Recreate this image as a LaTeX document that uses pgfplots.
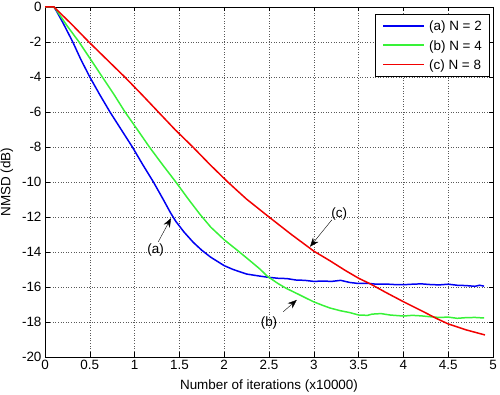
\documentclass[border=0pt]{standalone}
\usepackage{fontspec}
\setmainfont{Liberation Sans}
\usepackage{pgfplots}
\pgfplotsset{compat=1.18}
\usetikzlibrary{arrows.meta}
\definecolor{mblue}{rgb}{0,0,0.95}
\definecolor{mgreen}{rgb}{0.22,0.95,0.22}
\definecolor{mred}{rgb}{0.95,0,0}
\newcommand{\cf}{\fontsize{13.5}{16}\selectfont}
\begin{document}
\begin{tikzpicture}
\useasboundingbox (-45bp,-38bp) rectangle (455bp,357bp);
\begin{axis}[
  at={(0,0)}, anchor=south west,
  scale only axis, width=448bp, height=350bp,
  xmin=0, xmax=5, ymin=-20, ymax=0,
  xtick={0,0.5,...,5}, ytick={-20,-18,...,0},
  grid=major,
  major grid style={black!65, line width=0.4pt, dash pattern=on 1bp off 1.6bp},
  tick align=inside, major tick length=4.5bp,
  tick style={black, line width=0.5pt},
  axis line style={black, line width=0.7pt},
  clip=false,
  font=\cf,
  ticklabel style={font=\cf},
  /pgf/number format/assume math mode=true,
  xlabel={Number of iterations (x10000)},
  ylabel={NMSD (dB)},
  xlabel style={at={(axis description cs:0.5,0)}, anchor=base, yshift=-32bp, font=\cf},
  ylabel style={at={(axis description cs:-0.0848,0.5)}, anchor=center, font=\cf},
  legend style={at={(rel axis cs:1,1)}, anchor=north east, xshift=-3.7bp, yshift=-7bp,
    draw=black, fill=white, inner xsep=7.3bp, inner ysep=5.1bp,
    row sep=6.3bp, column sep=4bp,
    nodes={inner sep=0pt, text height=11.5bp, text depth=1.5bp, font=\cf},
    cells={anchor=west}},
  legend image code/.code={\draw[#1, line width=1.5pt] (0bp,0bp) -- (41bp,0bp);},
]
\addplot[mblue, line width=1.5pt] coordinates {
(0,0) (0.1,0) (0.13,-0.25) (0.2,-0.9) (0.31,-2) (0.4,-3.0) (0.5,-4) (0.61,-5) (0.725,-6) (0.85,-7)
(0.975,-8) (1.09,-9) (1.21,-10) (1.32,-11) (1.4,-11.75) (1.46,-12.25) (1.55,-12.85) (1.655,-13.45)
(1.75,-13.9) (1.85,-14.3) (2.0,-14.78) (2.1,-15.0) (2.25,-15.26) (2.4,-15.38) (2.5,-15.45)
(2.6,-15.5) (2.7,-15.52) (2.8,-15.6) (2.9,-15.62) (3.0,-15.68) (3.1,-15.66) (3.2,-15.68)
(3.3,-15.62) (3.4,-15.74) (3.5,-15.8) (3.6,-15.79) (3.7,-15.84) (3.8,-15.83) (3.9,-15.86)
(4.0,-15.87) (4.1,-15.84) (4.2,-15.82) (4.3,-15.86) (4.4,-15.88) (4.5,-15.84) (4.6,-15.9)
(4.7,-15.92) (4.8,-15.96) (4.85,-15.9) (4.9,-15.95)
};
\addlegendentry{(a) N = 2}
\addplot[mgreen, line width=1.5pt] coordinates {
(0,0) (0.1,0) (0.13,-0.2) (0.25,-1.1) (0.38,-2) (0.51,-3) (0.64,-4) (0.77,-5) (0.893,-6)
(1.03,-7) (1.165,-8) (1.31,-9) (1.46,-10) (1.6,-10.98) (1.73,-11.85) (1.85,-12.58) (2.0,-13.3)
(2.17,-14.0) (2.3,-14.55) (2.4,-14.98) (2.48,-15.38) (2.6,-15.8) (2.7,-16.1) (2.75,-16.22)
(2.846,-16.46) (2.92,-16.65) (3.0,-16.85) (3.1,-17.05) (3.18,-17.2) (3.3,-17.36)
(3.4,-17.46) (3.5,-17.6) (3.6,-17.62) (3.65,-17.55) (3.75,-17.52) (3.85,-17.6) (4.0,-17.66)
(4.1,-17.62) (4.2,-17.65) (4.3,-17.7) (4.4,-17.74) (4.5,-17.72) (4.6,-17.79) (4.7,-17.75)
(4.8,-17.74) (4.9,-17.77)
};
\addlegendentry{(b) N = 4}
\addplot[mred, line width=1.5pt] coordinates {
(0,0) (0.1,0) (0.13,-0.15) (0.3,-1.0) (0.49,-2) (0.69,-3) (0.89,-4) (1.08,-5) (1.265,-6)
(1.45,-7) (1.65,-8) (1.84,-9) (1.94,-9.5) (2.03,-9.95) (2.14,-10.47) (2.25,-10.98) (2.5,-12)
(2.75,-13.0) (3.0,-13.95) (3.18,-14.5) (3.35,-15.05) (3.5,-15.5) (3.63,-15.82) (3.8,-16.3)
(4.0,-16.84) (4.2,-17.35) (4.37,-17.8) (4.5,-18.11) (4.7,-18.45) (4.91,-18.74)
};
\addlegendentry{(c) N = 8}
\draw[-{Stealth[length=9bp,width=7bp]}, line width=0.4pt] (axis cs:1.265,-13.41) -- (axis cs:1.406,-12.07);
\node[font=\cf] at (axis cs:1.235,-13.89) {(a)};
\draw[-{Stealth[length=9bp,width=7bp]}, line width=0.4pt] (axis cs:2.66,-17.41) -- (axis cs:2.81,-16.74);
\node[font=\cf] at (axis cs:2.50,-18.04) {(b)};
\draw[-{Stealth[length=9bp,width=7bp]}, line width=0.4pt] (axis cs:3.2,-12.17) -- (axis cs:2.958,-13.70);
\node[font=\cf] at (axis cs:3.285,-11.83) {(c)};
\end{axis}
\end{tikzpicture}
\end{document}
